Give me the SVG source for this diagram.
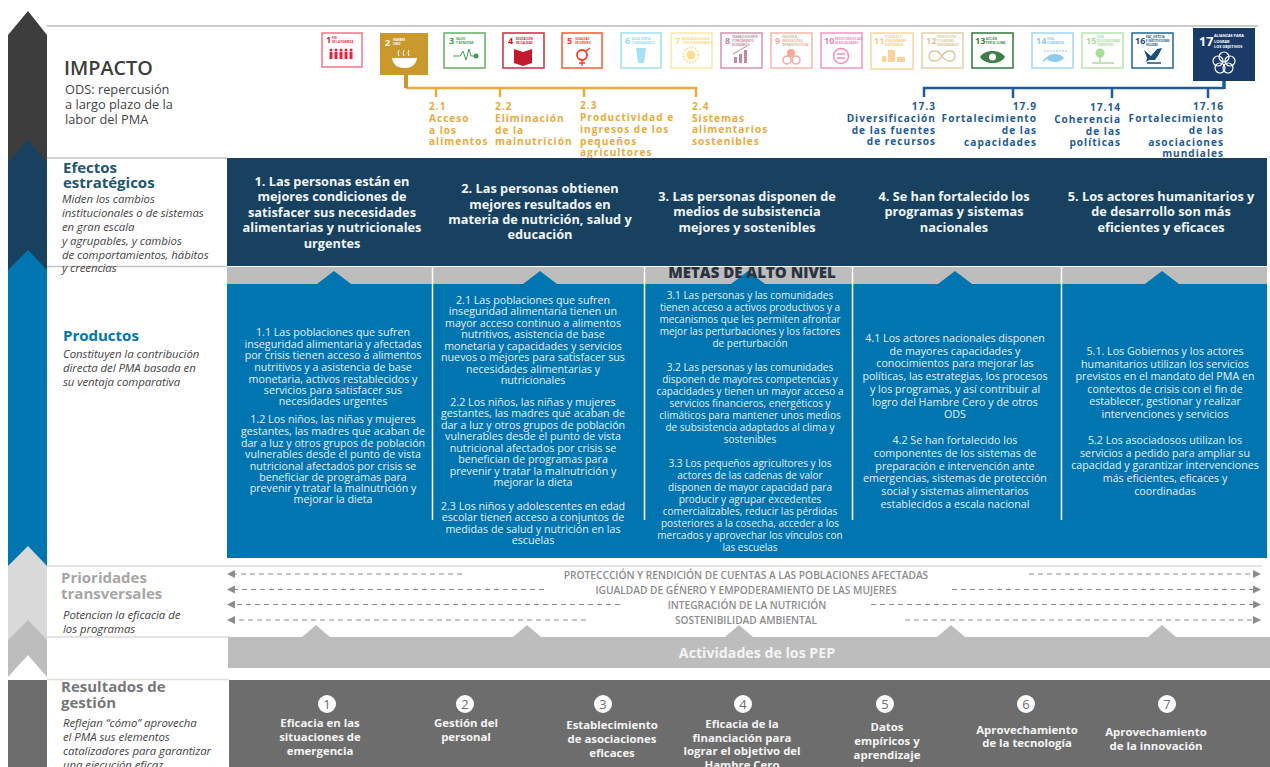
<svg xmlns="http://www.w3.org/2000/svg" width="1270" height="767" viewBox="0 0 1270 767">
<style>
text{font-family:"Open Sans","Liberation Sans",sans-serif}
.m{text-anchor:middle}.e{text-anchor:end}
.hd{font-size:12.75px;font-weight:700;fill:#f2f5f7;text-anchor:middle}
.bd{font-size:10.7px;fill:#e6f1f7;text-anchor:middle}
.bs{font-size:10px;fill:#e6f1f7;text-anchor:middle}
.desc{font-size:11.4px;font-style:italic;fill:#444;letter-spacing:-.05px}
.sec{font-size:15px;font-weight:700}
.gold{font-size:10.1px;font-weight:700;letter-spacing:1px;fill:#e8ab3c}
.blue{font-size:10.1px;font-weight:700;letter-spacing:1px;fill:#1f5b94;text-anchor:end}
.pt{font-size:10.2px;font-weight:600;fill:#8c8c8c;text-anchor:middle}
.rg{font-size:11.4px;font-weight:700;fill:#f4f4f4;text-anchor:middle}
.num{font-size:13px;fill:#6d6d6d;text-anchor:middle}
.sdg{fill:#fff;stroke-width:1.6}
.n{font-size:9px;font-weight:700}
.t{font-size:2.8px;font-weight:700}
.rule{stroke-width:1.5;fill:none}
.dash{stroke:#8c8c8c;stroke-width:1;stroke-dasharray:5 4;fill:none;marker-end:url(#ah)}
</style>
<defs>
<marker id="ah" viewBox="0 0 8 8" refX="7" refY="4" markerWidth="8" markerHeight="8" orient="auto-start-reverse" markerUnits="userSpaceOnUse"><path d="M0 0L8 4L0 8Z" fill="#8c8c8c"/></marker>
</defs>
<rect width="1270" height="767" fill="#fff"/>

<g id="chevrons">
<path d="M8 35L28 11L47 35V190H8Z" fill="#3d3d3d"/>
<path d="M8 162L28 140L47 162V300H8Z" fill="#17415f"/>
<path d="M8 270L28 250L47 270V580H8Z" fill="#0075b0"/>
<path d="M8 566L28 546L47 566V650H8Z" fill="#d9d9d9"/>
<path d="M8 640L28 620L47 640V677L28 655L8 677Z" fill="#bdbdbd"/>
<rect x="8" y="680" width="39" height="87" fill="#6d6d6d"/>
</g>

<g id="rules">
<path class="rule" stroke="#bbb" d="M47 26H1258"/>
<path class="rule" stroke="#c4c4c4" d="M47 158H227M47 266.500H227"/>
<path class="rule" stroke="#dcdcdc" d="M47 566H1262M47 637H229M47 679.500H229"/>
</g>

<g id="impacto">
<text x="64" y="75" font-size="19.800" font-weight="600" fill="#3d3d3d">IMPACTO</text>
<text x="65" y="94" font-size="12.800" fill="#444">ODS: repercusión</text>
<text x="65" y="109" font-size="12.800" fill="#444">a largo plazo de la</text>
<text x="65" y="124" font-size="12.800" fill="#444">labor del PMA</text>
</g>

<g id="sdg1"><rect class="sdg" x="322" y="33" width="40" height="34" stroke="#ee7f8e"/><text class="n" x="326" y="43" fill="#e5243b">1</text><text class="t" x="332" y="39" fill="#e5243b">FIN</text><text class="t" x="332" y="43" fill="#e5243b">DE LA POBREZA</text><g fill="#e5243b"><circle cx="331" cy="50" r="1.500"/><circle cx="336" cy="50" r="1.500"/><circle cx="341" cy="50" r="1.500"/><circle cx="346" cy="50" r="1.500"/><circle cx="351" cy="50" r="1.500"/><path d="M329.500 52h3v7h-3zM334.500 52h3v7h-3zM339.500 52h3v7h-3zM344.500 52h3v7h-3zM349.500 52h3v7h-3z"/></g></g>
<g id="sdg2"><rect x="380" y="33" width="48" height="42" fill="#c9992c"/><text class="n" x="385" y="46" fill="#fff">2</text><text class="t" x="393" y="41" fill="#fff">HAMBRE</text><text class="t" x="393" y="45" fill="#fff">CERO</text><path d="M392 58h25c-1 7-6 10-12.500 10s-11.500-3-12.500-10Z" fill="#fff"/><path d="M399 50q-2 3 0 6M404 50q-2 3 0 6M409 50q-2 3 0 6" stroke="#fff" fill="none"/></g>
<g id="sdg3"><rect class="sdg" x="444" y="33" width="41" height="35" stroke="#6db56d"/><text class="n" x="449" y="44" fill="#3f9e4d">3</text><text class="t" x="456" y="40" fill="#3f9e4d">SALUD</text><text class="t" x="456" y="44" fill="#3f9e4d">Y BIENESTAR</text><path d="M453 56h7l3-5 3 9 3-11 2 7h3" stroke="#3f9e4d" fill="none"/><circle cx="476" cy="56" r="2.500" fill="#3f9e4d"/></g>
<g id="sdg4"><rect class="sdg" x="503" y="33" width="41" height="35" stroke="#d0394c"/><text class="n" x="508" y="44" fill="#c5192d">4</text><text class="t" x="516" y="40" fill="#c5192d">EDUCACIÓN</text><text class="t" x="516" y="44" fill="#c5192d">DE CALIDAD</text><path d="M514 49l9 3 9-3v14l-9 3-9-3Z" fill="#c5192d"/></g>
<g id="sdg5"><rect class="sdg" x="562" y="33" width="40" height="35" stroke="#f4663f"/><text class="n" x="567" y="44" fill="#ff3a21">5</text><text class="t" x="575" y="40" fill="#ff3a21">IGUALDAD</text><text class="t" x="575" y="44" fill="#ff3a21">DE GÉNERO</text><circle cx="582" cy="55" r="5" fill="none" stroke="#ff3a21" stroke-width="1.800"/><path d="M582 60v6M579 63h6M586 51l4-3" stroke="#ff3a21" stroke-width="1.300"/></g>
<g id="sdg6"><rect class="sdg" x="621" y="33" width="40" height="35" stroke="#a4e2f2"/><text class="n" x="625" y="44" fill="#8fdcf0">6</text><text class="t" x="632" y="40" fill="#8fdcf0">AGUA LIMPIA</text><text class="t" x="632" y="44" fill="#8fdcf0">Y SANEAMIENTO</text><path d="M636 48h10l-2 15h-6Z" fill="#a4e2f2"/></g>
<g id="sdg7"><rect class="sdg" x="671" y="33" width="41" height="35" stroke="#fde9a8"/><text class="n" x="675" y="44" fill="#fbd97a">7</text><text class="t" x="682" y="40" fill="#fbd97a">ENERGÍA ASEQUIBLE</text><text class="t" x="682" y="44" fill="#fbd97a">Y NO CONTAMINANTE</text><circle cx="691" cy="55" r="4.500" fill="#fbdf90"/><circle cx="691" cy="55" r="7.500" fill="none" stroke="#fbdf90" stroke-width="2" stroke-dasharray="1.500 1.500"/></g>
<g id="sdg8"><rect class="sdg" x="721" y="33" width="41" height="35" stroke="#d99aae"/><text class="n" x="725" y="44" fill="#c7869c">8</text><text class="t" x="732" y="38" fill="#c7869c">TRABAJO DECENTE</text><text class="t" x="732" y="42" fill="#c7869c">Y CRECIMIENTO</text><text class="t" x="732" y="46" fill="#c7869c">ECONÓMICO</text><path d="M734 57h3v6h-3zM739 54h3v9h-3zM744 50h3v13h-3z" fill="#c7869c"/><path d="M733 54l14-8" stroke="#c7869c"/></g>
<g id="sdg9"><rect class="sdg" x="771" y="33" width="41" height="35" stroke="#f9b9b0"/><text class="n" x="775" y="44" fill="#f5a898">9</text><text class="t" x="782" y="38" fill="#f5a898">INDUSTRIA,</text><text class="t" x="782" y="42" fill="#f5a898">INNOVACIÓN E</text><text class="t" x="782" y="46" fill="#f5a898">INFRAESTRUCTURA</text><circle cx="791" cy="53" r="4" fill="#f5a898"/><circle cx="787" cy="60" r="4" fill="none" stroke="#f5a898" stroke-width="1.500"/><circle cx="796" cy="60" r="4" fill="none" stroke="#f5a898" stroke-width="1.500"/></g>
<g id="sdg10"><rect class="sdg" x="821" y="33" width="41" height="35" stroke="#f49ac6"/><text class="n" x="824" y="44" fill="#ef7fb8">10</text><text class="t" x="835" y="40" fill="#ef7fb8">REDUCCIÓN DE LAS</text><text class="t" x="835" y="44" fill="#ef7fb8">DESIGUALDADES</text><circle cx="841" cy="56" r="7.500" fill="none" stroke="#f28cc0" stroke-width="1.500"/><path d="M837 54h8M837 58h8" stroke="#f28cc0" stroke-width="1.500"/></g>
<g id="sdg11"><rect class="sdg" x="871" y="33" width="42" height="36" stroke="#fcd9a0"/><text class="n" x="874" y="44" fill="#fbc97a">11</text><text class="t" x="885" y="38" fill="#fbc97a">CIUDADES Y</text><text class="t" x="885" y="42" fill="#fbc97a">COMUNIDADES</text><text class="t" x="885" y="46" fill="#fbc97a">SOSTENIBLES</text><path d="M882 62v-6h4v6zM888 62v-12h7v12zM897 62v-5h8v5z" fill="#fbd39a"/></g>
<g id="sdg12"><rect class="sdg" x="922" y="33" width="41" height="35" stroke="#e5d2ae"/><text class="n" x="926" y="44" fill="#dcc597">12</text><text class="t" x="937" y="38" fill="#dcc597">PRODUCCIÓN</text><text class="t" x="937" y="42" fill="#dcc597">Y CONSUMO</text><text class="t" x="937" y="46" fill="#dcc597">RESPONSABLES</text><path d="M942 56c-3-5-6-5-8-5-3 0-5 2-5 5s2 5 5 5c2 0 5 0 8-5s6-5 8-5c3 0 5 2 5 5s-2 5-5 5c-2 0-5 0-8-5Z" fill="none" stroke="#dcc597" stroke-width="1.300"/></g>
<g id="sdg13"><rect class="sdg" x="972" y="33" width="41" height="35" stroke="#3f7f47"/><text class="n" x="975" y="44" fill="#3f7f47">13</text><text class="t" x="986" y="40" fill="#3f7f47">ACCIÓN</text><text class="t" x="986" y="44" fill="#3f7f47">POR EL CLIMA</text><path d="M980 57c5-8 20-8 25 0-5 8-20 8-25 0Z" fill="#3f7f47"/><circle cx="992.500" cy="57" r="3.500" fill="#fff"/></g>
<g id="sdg14"><rect class="sdg" x="1032" y="33" width="41" height="35" stroke="#a6d8f5"/><text class="n" x="1036" y="44" fill="#8ccbf0">14</text><text class="t" x="1047" y="40" fill="#8ccbf0">VIDA</text><text class="t" x="1047" y="44" fill="#8ccbf0">SUBMARINA</text><path d="M1044 51h24" stroke="#8ccbf0" stroke-dasharray="2 1"/><path d="M1043 60l4-3c4-4 13-4 17 1-4 5-13 5-17 1l-4 3Z" fill="#8ccbf0"/></g>
<g id="sdg15"><rect class="sdg" x="1082" y="33" width="41" height="35" stroke="#bfe8b5"/><text class="n" x="1086" y="44" fill="#a8dd9a">15</text><text class="t" x="1097" y="38" fill="#a8dd9a">VIDA</text><text class="t" x="1097" y="42" fill="#a8dd9a">DE ECOSISTEMAS</text><text class="t" x="1097" y="46" fill="#a8dd9a">TERRESTRES</text><circle cx="1100" cy="53" r="4.500" fill="#a8dd9a"/><path d="M1100 53v9M1092 63h22" stroke="#a8dd9a" stroke-width="1.500"/></g>
<g id="sdg16"><rect class="sdg" x="1132" y="33" width="41" height="35" stroke="#2a6f9f"/><text class="n" x="1135" y="44" fill="#1a4f7a">16</text><text class="t" x="1146" y="38" fill="#1a4f7a">PAZ, JUSTICIA</text><text class="t" x="1146" y="42" fill="#1a4f7a">E INSTITUCIONES</text><text class="t" x="1146" y="46" fill="#1a4f7a">SÓLIDAS</text><path d="M1144 50l7 6 6-7 5-1-3 6-4 6h-6l-3 2 1-4Z" fill="#1a4f7a"/><path d="M1147 63h14" stroke="#1a4f7a" stroke-width="1.500"/></g>
<g id="sdg17"><rect x="1193" y="28" width="62" height="53" fill="#1a3a68"/><text x="1199" y="46" font-size="12.500" font-weight="700" fill="#fff">17</text><g fill="#fff" font-weight="700"><text x="1214" y="37" style="font-size:3.800px">ALIANZAS PARA</text><text x="1214" y="42.500" style="font-size:3.800px">LOGRAR</text><text x="1214" y="48" style="font-size:3.800px">LOS OBJETIVOS</text></g><g fill="none" stroke="#fff" stroke-width="1.200"><circle cx="1224" cy="57" r="5"/><circle cx="1230" cy="61" r="5"/><circle cx="1228" cy="68" r="5"/><circle cx="1220" cy="68" r="5"/><circle cx="1218" cy="61" r="5"/></g></g>

<g id="connectors" fill="none">
<path stroke="#e8ab3c" stroke-width="2.500" d="M436 88v9M500 88v9M584 88v9"/>
<path stroke="#e8ab3c" stroke-width="2.500" d="M696 97V88H406"/>
<path stroke="#c9992c" stroke-width="4" d="M406 75V88"/>
<path stroke="#1f5b94" stroke-width="2.500" d="M924 97V88H1224M1013 88v10M1112 88v10M1208 88v10"/>
<path stroke="#1f5b94" stroke-width="3.500" d="M1224 81v8"/>
<path class="dash" d="M462 574H228"/><path class="dash" d="M544 589.500H228"/><path class="dash" d="M620 604.500H228"/><path class="dash" d="M586 620H228"/>
<path class="dash" d="M1029 574H1260"/><path class="dash" d="M952 589.500H1260"/><path class="dash" d="M871 604.500H1260"/><path class="dash" d="M905 620H1260"/>
</g>

<g id="sdg-targets">
<g class="gold"><text x="429" y="110">2.1</text><text x="429" y="122">Acceso</text><text x="429" y="134">a los</text><text x="429" y="145">alimentos</text>
<text x="495" y="110">2.2</text><text x="495" y="122">Eliminación</text><text x="495" y="134">de la</text><text x="495" y="145">malnutrición</text>
<text x="580" y="109">2.3</text><text x="580" y="121">Productividad e</text><text x="580" y="133">ingresos de los</text><text x="580" y="145">pequeños</text><text x="580" y="156">agricultores</text>
<text x="692" y="110">2.4</text><text x="692" y="122">Sistemas</text><text x="692" y="133">alimentarios</text><text x="692" y="145">sostenibles</text></g>
<g class="blue"><text x="936" y="110">17.3</text><text x="936" y="122">Diversificación</text><text x="936" y="134">de las fuentes</text><text x="936" y="145">de recursos</text>
<text x="1037" y="110">17.9</text><text x="1037" y="122">Fortalecimiento</text><text x="1037" y="134">de las</text><text x="1037" y="146">capacidades</text>
<text x="1121" y="111">17.14</text><text x="1121" y="123">Coherencia</text><text x="1121" y="135">de las</text><text x="1121" y="146">políticas</text>
<text x="1224" y="110">17.16</text><text x="1224" y="122">Fortalecimiento</text><text x="1224" y="134">de las</text><text x="1224" y="146">asociaciones</text><text x="1224" y="157">mundiales</text></g>
</g>

<g id="efectos">
<rect x="227" y="158" width="1040" height="108" fill="#17415f"/>
<text class="sec" x="63" y="173" fill="#215573">Efectos</text>
<text class="sec" x="63" y="188" fill="#215573">estratégicos</text>
<g class="desc"><text x="62" y="203">Miden los cambios</text><text x="62" y="217">institucionales o de sistemas</text><text x="62" y="231">en gran escala</text><text x="62" y="245">y agrupables, y cambios</text><text x="62" y="259">de comportamientos, hábitos</text><text x="62" y="272">y creencias</text></g>
<g class="hd"><text x="332" y="186">1. Las personas están en</text><text x="332" y="201">mejores condiciones de</text><text x="332" y="217">satisfacer sus necesidades</text><text x="332" y="232">alimentarias y nutricionales</text><text x="332" y="248">urgentes</text>
<text x="540" y="193">2. Las personas obtienen</text><text x="540" y="209">mejores resultados en</text><text x="540" y="224">materia de nutrición, salud y</text><text x="540" y="239">educación</text>
<text x="747" y="201">3. Las personas disponen de</text><text x="747" y="216">medios de subsistencia</text><text x="747" y="232">mejores y sostenibles</text>
<text x="954" y="201">4. Se han fortalecido los</text><text x="954" y="216">programas y sistemas</text><text x="954" y="232">nacionales</text>
<text x="1161" y="201">5. Los actores humanitarios y</text><text x="1161" y="216">de desarrollo son más</text><text x="1161" y="232">eficientes y eficaces</text></g>
</g>

<g id="productos">
<rect x="227" y="267" width="1040" height="17" fill="#bdbdbd"/>
<rect x="227" y="284" width="1040" height="274" fill="#0075b0"/>
<path d="M317 284L334 271L351 284ZM523 284L540 271L557 284ZM731 284L748 271L765 284ZM938 284L955 271L972 284ZM1145 284L1162 271L1179 284Z" fill="#0075b0"/>
<path d="M432.500 266V520M644.500 266V520M852.500 266V520M1061.500 266V520" stroke="#fff" stroke-width="1.500" fill="none"/>
<text x="752" y="278" font-size="15" font-weight="800" fill="#2b3340" class="m">METAS DE ALTO NIVEL</text>
<text class="sec" x="63" y="341" fill="#0075b0">Productos</text>
<g class="desc"><text x="63" y="358">Constituyen la contribución</text><text x="63" y="372">directa del PMA basada en</text><text x="63" y="386">su ventaja comparativa</text></g>
<g class="bd">
<text x="333" y="336">1.1 Las poblaciones que sufren</text><text x="333" y="347.500">inseguridad alimentaria y afectadas</text><text x="333" y="359">por crisis tienen acceso a alimentos</text><text x="333" y="371">nutritivos y a asistencia de base</text><text x="333" y="382.500">monetaria, activos restablecidos y</text><text x="333" y="394">servicios para satisfacer sus</text><text x="333" y="405">necesidades urgentes</text>
<text x="333" y="423">1.2 Los niños, las niñas y mujeres</text><text x="333" y="435">gestantes, las madres que acaban de</text><text x="333" y="447">dar a luz  y otros grupos de población</text><text x="333" y="458">vulnerables desde el punto de vista</text><text x="333" y="469.500">nutricional afectados por crisis se</text><text x="333" y="481">beneficiar de programas para</text><text x="333" y="492">prevenir y tratar la malnutrición y</text><text x="333" y="503">mejorar la dieta</text>
<text x="533" y="304">2.1 Las poblaciones que sufren</text><text x="533" y="315">inseguridad alimentaria tienen un</text><text x="533" y="327">mayor acceso continuo a alimentos</text><text x="533" y="338">nutritivos, asistencia de base</text><text x="533" y="349.500">monetaria y capacidades y servicios</text><text x="533" y="361">nuevos o mejores para satisfacer sus</text><text x="533" y="373">necesidades alimentarias y</text><text x="533" y="384">nutricionales</text>
<text x="533" y="406">2.2 Los niños, las niñas y mujeres</text><text x="533" y="417">gestantes, las madres que acaban de</text><text x="533" y="429">dar a luz y otros grupos de población</text><text x="533" y="440">vulnerables desde el punto de vista</text><text x="533" y="452">nutricional afectados por crisis se</text><text x="533" y="463">benefician de programas para</text><text x="533" y="475">prevenir y tratar la malnutrición y</text><text x="533" y="486">mejorar la dieta</text>
<text x="533" y="510">2.3 Los niños y adolescentes en edad</text><text x="533" y="521">escolar tienen acceso a conjuntos de</text><text x="533" y="532.500">medidas de salud y nutrición en las</text><text x="533" y="544">escuelas</text>
<text x="955" y="342">4.1 Los actores nacionales disponen</text><text x="955" y="354.500">de mayores capacidades y</text><text x="955" y="367">conocimientos para mejorar las</text><text x="955" y="380">políticas, las estrategias, los procesos</text><text x="955" y="393">y los programas, y así contribuir al</text><text x="955" y="406">logro del Hambre Cero y de otros</text><text x="955" y="418">ODS</text>
<text x="955" y="444">4.2 Se han fortalecido los</text><text x="955" y="457">componentes de los sistemas de</text><text x="955" y="469.500">preparación e intervención ante</text><text x="955" y="482">emergencias, sistemas de protección</text><text x="955" y="495">social y sistemas alimentarios</text><text x="955" y="508">establecidos a escala nacional</text>
<text x="1165" y="355">5.1. Los Gobiernos y los actores</text><text x="1165" y="367.500">humanitarios utilizan los servicios</text><text x="1165" y="380">previstos en el mandato del PMA  en</text><text x="1165" y="392.500">contextos de crisis con el fin de</text><text x="1165" y="405">establecer, gestionar y realizar</text><text x="1165" y="418">intervenciones y servicios</text>
<text x="1165" y="444">5.2 Los asociadosos utilizan los</text><text x="1165" y="456.500">servicios a pedido para ampliar su</text><text x="1165" y="469">capacidad y garantizar intervenciones</text><text x="1165" y="482">más eficientes, eficaces y</text><text x="1165" y="495">coordinadas</text>
</g>
<g class="bs">
<text x="750" y="299">3.1 Las personas y las comunidades</text><text x="750" y="311">tienen acceso a activos productivos y a</text><text x="750" y="323">mecanismos que les permiten afrontar</text><text x="750" y="335">mejor las perturbaciones y los factores</text><text x="750" y="347">de perturbación</text>
<text x="750" y="371">3.2 Las personas y las comunidades</text><text x="750" y="383">disponen de mayores competencias y</text><text x="750" y="395">capacidades y tienen un mayor acceso a</text><text x="750" y="407">servicios financieros, energéticos y</text><text x="750" y="419">climáticos para mantener unos medios</text><text x="750" y="431">de subsistencia adaptados al clima y</text><text x="750" y="443">sostenibles</text>
<text x="750" y="467">3.3 Los pequeños agricultores y los</text><text x="750" y="479">actores de las cadenas de valor</text><text x="750" y="491">disponen de mayor capacidad para</text><text x="750" y="503">producir y agrupar excedentes</text><text x="750" y="515">comercializables, reducir las pérdidas</text><text x="750" y="527">posteriores a la cosecha, acceder a los</text><text x="750" y="539">mercados y aprovechar los vínculos con</text><text x="750" y="551">las escuelas</text>
</g>
</g>

<g id="prioridades">
<text class="sec" x="61" y="583" fill="#a6a6a6">Prioridades</text>
<text class="sec" x="61" y="599" fill="#a6a6a6">transversales</text>
<g class="desc"><text x="63" y="619">Potencian la eficacia de</text><text x="63" y="633">los programas</text></g>
<g class="pt"><text x="746" y="579">PROTECCCIÓN Y RENDICIÓN DE CUENTAS A LAS POBLACIONES AFECTADAS</text><text x="746" y="594">IGUALDAD DE GÉNERO Y EMPODERAMIENTO DE LAS MUJERES</text><text x="747" y="609">INTEGRACIÓN DE LA NUTRICIÓN</text><text x="746" y="624">SOSTENIBILIDAD AMBIENTAL</text></g>
</g>

<g id="actividades">
<rect x="228" y="637" width="1042" height="31" fill="#bdbdbd"/>
<path d="M302 637L316 625L330 637ZM513 637L527 625L541 637ZM725 637L739 625L753 637ZM937 637L951 625L965 637ZM1148 637L1162 625L1176 637Z" fill="#bdbdbd"/>
<text x="757" y="658" font-size="14.200" font-weight="700" fill="#f4f4f4" class="m">Actividades de los PEP</text>
</g>

<g id="resultados">
<rect x="229" y="680" width="1041" height="87" fill="#6d6d6d"/>
<text class="sec" x="61" y="692" fill="#777">Resultados de</text>
<text class="sec" x="61" y="708" fill="#777">gestión</text>
<g class="desc"><text x="63" y="727">Reflejan “cómo” aprovecha</text><text x="63" y="741">el PMA sus elementos</text><text x="63" y="755">catalizadores para garantizar</text><text x="63" y="769">una ejecución eficaz</text></g>
<g fill="#fff"><circle cx="327" cy="704" r="9"/><circle cx="465" cy="704" r="9"/><circle cx="603" cy="704" r="9"/><circle cx="743" cy="704" r="9"/><circle cx="885" cy="704" r="9"/><circle cx="1026" cy="704" r="9"/><circle cx="1167" cy="704" r="9"/></g>
<g class="num"><text x="327" y="708.500">1</text><text x="465" y="708.500">2</text><text x="603" y="708.500">3</text><text x="743" y="708.500">4</text><text x="885" y="708.500">5</text><text x="1026" y="708.500">6</text><text x="1167" y="708.500">7</text></g>
<g class="rg"><text x="320" y="727">Eficacia en las</text><text x="320" y="741">situaciones de</text><text x="320" y="755">emergencia</text>
<text x="466" y="727">Gestión del</text><text x="466" y="741">personal</text>
<text x="612" y="729">Establecimiento</text><text x="612" y="743">de asociaciones</text><text x="612" y="757">eficaces</text>
<text x="742" y="728">Eficacia de la</text><text x="742" y="742">financiación para</text><text x="742" y="755">lograr el objetivo del</text><text x="742" y="769">Hambre Cero</text>
<text x="887" y="731">Datos</text><text x="887" y="745">empíricos y</text><text x="887" y="759">aprendizaje</text>
<text x="1027" y="734">Aprovechamiento</text><text x="1027" y="747">de la tecnología</text>
<text x="1156" y="736">Aprovechamiento</text><text x="1156" y="750">de la innovación</text></g>
</g>
</svg>
